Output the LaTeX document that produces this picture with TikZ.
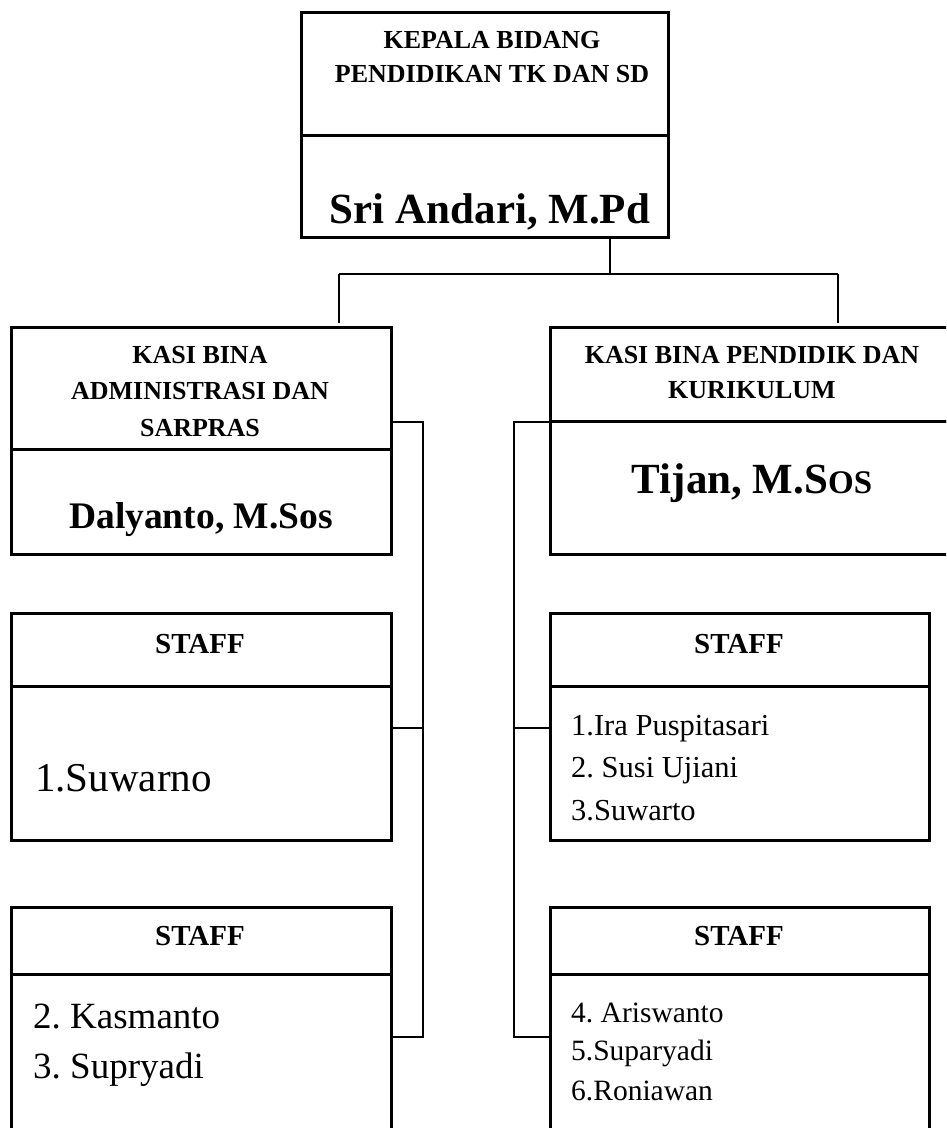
\documentclass[tikz,border=0pt]{standalone}
\usepackage{fontspec}
\setmainfont{Liberation Serif}
\frenchspacing
\begin{document}
\begin{tikzpicture}[x=1pt,y=-1pt,
  box/.style={draw, line width=3pt, inner sep=0pt, outer sep=0pt},
  conn/.style={draw, line width=1.5pt},
  ctr/.style={inner sep=0pt, anchor=base},
  lft/.style={inner sep=0pt, anchor=base west},
  hdr/.style={font=\fontsize{26}{31}\selectfont\bfseries},
  staffhdr/.style={font=\fontsize{29}{34}\selectfont\bfseries}]
\useasboundingbox (0,0) rectangle (946,1128);
\clip (0,0) rectangle (946,1128);

% ---- boxes ----
\node[box, minimum width=367pt, minimum height=123pt] (topH) at (484.5,73.5) {};
\node[box, minimum width=367pt, minimum height=102pt] (topB) at (484.5,186) {};
\node[box, minimum width=380pt, minimum height=122pt] (klH) at (201,388) {};
\node[box, minimum width=380pt, minimum height=105pt] (klB) at (201,501.5) {};
\node[box, minimum width=400pt, minimum height=94pt] (krH) at (750,374) {};
\node[box, minimum width=400pt, minimum height=133pt] (krB) at (750,487.5) {};
\node[box, minimum width=380pt, minimum height=73pt] (sl1H) at (201,649.5) {};
\node[box, minimum width=380pt, minimum height=154pt] (sl1B) at (201,763) {};
\node[box, minimum width=379pt, minimum height=73pt] (sr1H) at (739.5,649.5) {};
\node[box, minimum width=379pt, minimum height=154pt] (sr1B) at (739.5,763) {};
\node[box, minimum width=380pt, minimum height=67pt] (sl2H) at (201,940.5) {};
\node[box, minimum width=380pt, minimum height=166pt] (sl2B) at (201,1057) {};
\node[box, minimum width=379pt, minimum height=67pt] (sr2H) at (739.5,940.5) {};
\node[box, minimum width=379pt, minimum height=166pt] (sr2B) at (739.5,1057) {};

% ---- texts ----
\node[ctr, hdr] (t1) at (492,48) {KEPALA BIDANG};
\node[ctr, hdr] (t2) at (492,82) {PENDIDIKAN TK DAN SD};
\node[ctr, font=\fontsize{43}{50}\selectfont\bfseries] (t3) at (490,223) {Sri Andari, M.Pd};

\node[ctr, hdr] (l1) at (200,363) {KASI BINA};
\node[ctr, hdr] (l2) at (200,399) {ADMINISTRASI DAN};
\node[ctr, hdr] (l3) at (200,436) {SARPRAS};
\node[ctr, font=\fontsize{37.5}{44}\selectfont\bfseries] (l4) at (201,528) {Dalyanto, M.Sos};

\node[ctr, hdr] (r1) at (752,363) {KASI BINA PENDIDIK DAN};
\node[ctr, hdr] (r2) at (752,398) {KURIKULUM};
\node[ctr, font=\fontsize{43}{50}\selectfont\bfseries] (r3) at (752,493) {Tijan, M.S{\fontsize{33}{40}\selectfont OS}};

\node[ctr, staffhdr] (s1) at (200,653) {STAFF};
\node[lft, font=\fontsize{41}{48}\selectfont] (s1a) at (35,791) {1.Suwarno};

\node[ctr, staffhdr] (s2) at (739,653) {STAFF};
\node[lft, font=\fontsize{30.5}{36}\selectfont] (s2a) at (571,735) {1.Ira Puspitasari};
\node[lft, font=\fontsize{30.5}{36}\selectfont] (s2b) at (571,777) {2. Susi Ujiani};
\node[lft, font=\fontsize{30.5}{36}\selectfont] (s2c) at (571,820) {3.Suwarto};

\node[ctr, staffhdr] (s3) at (200,945) {STAFF};
\node[lft, font=\fontsize{37}{43}\selectfont] (s3a) at (33,1028) {2. Kasmanto};
\node[lft, font=\fontsize{37}{43}\selectfont] (s3b) at (33,1078) {3. Supryadi};

\node[ctr, staffhdr] (s4) at (739,945) {STAFF};
\node[lft, font=\fontsize{29.5}{34}\selectfont] (s4a) at (571,1022) {4. Ariswanto};
\node[lft, font=\fontsize{29.5}{34}\selectfont] (s4b) at (571,1060) {5.Suparyadi};
\node[lft, font=\fontsize{29.5}{34}\selectfont] (s4c) at (571,1100) {6.Roniawan};

% ---- connectors ----
\coordinate (jT) at (610,274);
\coordinate (jL) at (339,274);
\coordinate (jR) at (838,274);
\draw[conn] (topB.south -| jT) -- (jT);
\draw[conn] (jL) -- (jR);
\draw[conn] (jL) -- ([yshift=4pt]klH.north -| jL);
\draw[conn] (jR) -- ([yshift=4pt]krH.north -| jR);

\coordinate (rowA) at (0,422);
\coordinate (rowB) at (0,728);
\coordinate (rowC) at (0,1037);
\coordinate (colL) at (423,0);
\coordinate (colR) at (514,0);
\draw[conn] (klH.east |- rowA) -- (colL |- rowA) -- (colL |- rowC) -- (sl2B.east |- rowC);
\draw[conn] (sl1B.east |- rowB) -- (colL |- rowB);
\draw[conn] (krH.west |- rowA) -- (colR |- rowA) -- (colR |- rowC) -- (sr2B.west |- rowC);
\draw[conn] (sr1B.west |- rowB) -- (colR |- rowB);
\end{tikzpicture}
\end{document}
